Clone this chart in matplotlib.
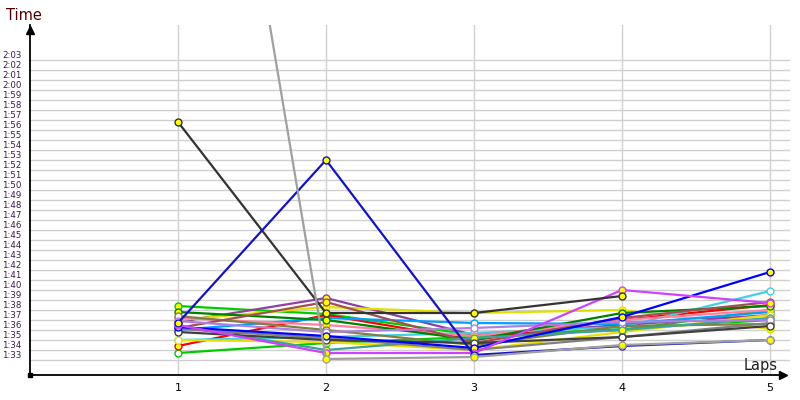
import matplotlib
matplotlib.use('Agg')
from matplotlib import pyplot as plt

laps = [1, 2, 3, 4, 5]
tick_secs = list(range(93, 124))

# lap times in seconds, one list per driver
gray = [181.0, 93.1, 93.3, 94.5, 95.0]
black = [116.8, 97.7, 97.7, 99.4]
navy = [96.7, 113.0, 93.5, 94.4, 95.0]
blue = [96.3, 95.4, 94.2, 97.3, 101.8]
green = [98.4, 97.6, 95.5, 96.0, 98.0]
green2 = [93.7, 94.7, 95.3, 96.1, 97.0]
magenta = [96.5, 93.7, 93.7, 100.0, 98.7]
purple = [96.8, 99.2, 95.5, 96.5, 97.5]
yellow = [97.0, 98.3, 97.7, 98.0, 96.1]
red = [94.4, 97.5, 95.0, 97.0, 98.5]
cyan = [95.0, 95.3, 95.7, 96.3, 99.9]
lightblue = [96.0, 97.2, 96.7, 96.6, 97.8]
pink = [97.2, 96.5, 95.4, 97.0, 98.0]
darkgreen = [97.8, 97.0, 95.0, 97.7, 98.4]
olive = [97.4, 96.0, 94.5, 96.4, 96.6]
brown = [96.2, 98.8, 94.7, 97.2, 98.8]
yellow2 = [95.0, 94.8, 94.0, 95.8, 97.5]
teal = [96.4, 94.0, 95.2, 96.0, 97.2]
midgray = [96.1, 95.2, 94.0, 95.3, 96.7]
lavender = [96.9, 95.8, 96.2, 96.8, 97.0]
darkgray = [95.8, 95.0, 94.7, 95.3, 96.4]

series = [
    (green, '#00cc00', 'yellow'),
    (green2, '#00cc00', 'white'),
    (purple, '#9040a0', 'yellow'),
    (yellow, '#e0e000', 'yellow'),
    (red, '#ff0000', 'yellow'),
    (cyan, '#40d0e0', 'white'),
    (lightblue, '#00a0ff', 'white'),
    (pink, '#ff80a0', 'yellow'),
    (darkgreen, '#008000', 'yellow'),
    (olive, '#808040', 'white'),
    (brown, '#a05050', 'yellow'),
    (yellow2, '#e8e000', 'white'),
    (teal, '#40a0a0', 'yellow'),
    (midgray, '#808080', 'white'),
    (lavender, '#b080e0', 'white'),
    (darkgray, '#404040', 'white'),
    (blue, '#0000ff', 'yellow'),
    (magenta, '#d040ff', 'yellow'),
    (black, '#333333', 'yellow'),
    (navy, '#1414c0', 'yellow'),
    (gray, '#a0a0a0', 'yellow'),
]

def fmt(s):
    return '%d:%02d' % (s // 60, s % 60)

fig = plt.figure(figsize=(8, 4), dpi=100)
ax = fig.add_axes([0.0375, 0.0625, 0.95, 0.875])

for vals, col, face in series:
    ax.plot(laps[:len(vals)], vals, '-o', color=col, lw=1.6, ms=5,
            mfc=face, mec=col, mew=1.0, zorder=3)

ax.set_xlim(0, 5.135)
ax.set_ylim(91.5, 126.5)

ax.set_xticks(laps)
ax.set_xticklabels([str(l) for l in laps], fontsize=8)
ax.set_yticks(tick_secs)
ax.set_yticklabels([fmt(s) for s in tick_secs], fontsize=6.2, color='#3a1848')
plt.setp(ax.get_yticklabels(), va='bottom')
ax.tick_params(axis='both', length=0)
ax.tick_params(axis='y', pad=6)
ax.tick_params(axis='x', pad=6)

ax.grid(True, color='#d0d0d0', lw=1.0, zorder=0)
ax.set_axisbelow(True)

for side in ['top', 'right']:
    ax.spines[side].set_visible(False)
ax.spines['left'].set_linewidth(1.3)
ax.spines['bottom'].set_linewidth(1.3)
ax.spines['bottom'].set_bounds(0, 5.08)

# axis arrows
ax.plot([0], [126.0], marker='^', color='black', ms=6, clip_on=False, zorder=5)
ax.plot([5.09], [91.5], marker='>', color='black', ms=6, clip_on=False, zorder=5)
ax.plot([0], [91.5], marker='s', color='black', ms=3, clip_on=False, zorder=5)

fig.text(0.008, 0.96, 'Time', fontsize=10.5, color='#500000', va='center')
fig.text(0.93, 0.087, 'Laps', fontsize=10.5, color='#202020', va='center')

fig.savefig('out.png', dpi=100)
